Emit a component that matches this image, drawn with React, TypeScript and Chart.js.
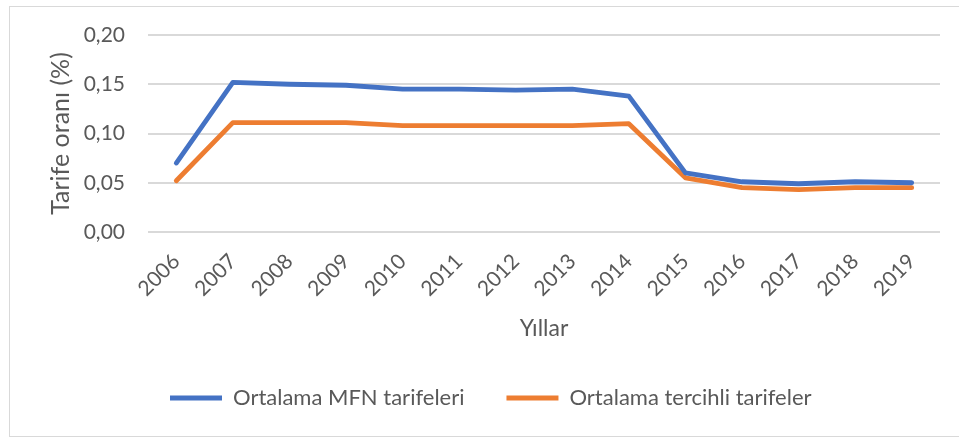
import React, { useEffect, useRef } from "react";
import { Chart, registerables } from "chart.js";

Chart.register(...registerables);

const years = ["2006", "2007", "2008", "2009", "2010", "2011", "2012", "2013", "2014", "2015", "2016", "2017", "2018", "2019"];
const mfnTariffs = [0.070, 0.152, 0.150, 0.149, 0.145, 0.145, 0.144, 0.145, 0.138, 0.060, 0.051, 0.049, 0.051, 0.050];
const preferentialTariffs = [0.052, 0.111, 0.111, 0.111, 0.108, 0.108, 0.108, 0.108, 0.110, 0.055, 0.045, 0.043, 0.045, 0.045];
const seriesNames = ["Ortalama MFN tarifeleri", "Ortalama tercihli tarifeler"];
const yAxisTitle = "Tarife oranı (%)";
const xAxisTitle = "Yıllar";

const FONT = "Lato, 'Open Sans', sans-serif";
const TEXT = "#595959";

export default function App() {
  const ref = useRef<HTMLCanvasElement | null>(null);
  useEffect(() => {
    if (!ref.current) return;
    const legendShift = {
      id: "legendShift",
      afterLayout(chart: any) {
        const l = chart.legend;
        if (l) {
          l.left = 118;
          l.right = 118 + 820;
        }
      },
    };
    const chart = new Chart(ref.current, {
      type: "line",
      data: {
        labels: years,
        datasets: [
          {
            label: seriesNames[0],
            data: mfnTariffs,
            borderColor: "#4472C4",
            backgroundColor: "#4472C4",
            borderWidth: 4.8,
            pointRadius: 0,
            borderCapStyle: "round",
            borderJoinStyle: "round",
            tension: 0,
          },
          {
            label: seriesNames[1],
            data: preferentialTariffs,
            borderColor: "#ED7D31",
            backgroundColor: "#ED7D31",
            borderWidth: 4.8,
            pointRadius: 0,
            borderCapStyle: "round",
            borderJoinStyle: "round",
            tension: 0,
          },
        ],
      },
      options: {
        animation: false,
        responsive: false,
        maintainAspectRatio: false,
        layout: { padding: { top: 28, left: 0, right: 19, bottom: 17 } },
        plugins: {
          tooltip: { enabled: false },
          legend: {
            position: "bottom",
            align: "start",
            labels: {
              usePointStyle: true,
              pointStyle: "line",
              pointStyleWidth: 52,
              boxHeight: 22,
              padding: 42,
              color: TEXT,
              font: { family: FONT, size: 22 },
            },
          },
        },
        scales: {
          x: {
            offset: true,
            grid: { display: false },
            border: { display: false },
            ticks: {
              color: TEXT,
              font: { family: FONT, size: 21 },
              minRotation: 45,
              maxRotation: 45,
              autoSkip: false,
              padding: 9,
            },
            title: {
              display: true,
              text: xAxisTitle,
              color: TEXT,
              font: { family: FONT, size: 23 },
              padding: { top: 0, bottom: 3 },
            },
            afterFit(axis: any) {
              axis.height = 113;
              axis.paddingLeft = 0;
              axis.paddingRight = 0;
            },
          },
          y: {
            min: 0,
            max: 0.2,
            border: { display: false },
            grid: { color: "#d9d9d9", lineWidth: 2, drawTicks: false },
            ticks: {
              stepSize: 0.05,
              color: TEXT,
              font: { family: FONT, size: 21 },
              padding: 23,
              callback: (v: any) => Number(v).toFixed(2).replace(".", ","),
            },
            title: {
              display: true,
              text: yAxisTitle,
              color: TEXT,
              font: { family: FONT, size: 25 },
              padding: { top: 36, bottom: 0 },
            },
            afterFit(axis: any) {
              axis.width = 138;
              axis.paddingTop = 0;
              axis.paddingBottom = 0;
            },
          },
        },
      },
      plugins: [legendShift],
    });
    return () => chart.destroy();
  }, []);
  return (
    <div
      style={{
        position: "absolute",
        left: 9,
        top: 6,
        width: 950,
        height: 431,
        boxSizing: "border-box",
        borderTop: "1px solid #d9d9d9",
        borderLeft: "1px solid #d9d9d9",
        borderBottom: "1px solid #d9d9d9",
        background: "#fff",
      }}
    >
      <canvas ref={ref} width={949} height={429} style={{ display: "block", width: 949, height: 429 }} />
    </div>
  );
}
